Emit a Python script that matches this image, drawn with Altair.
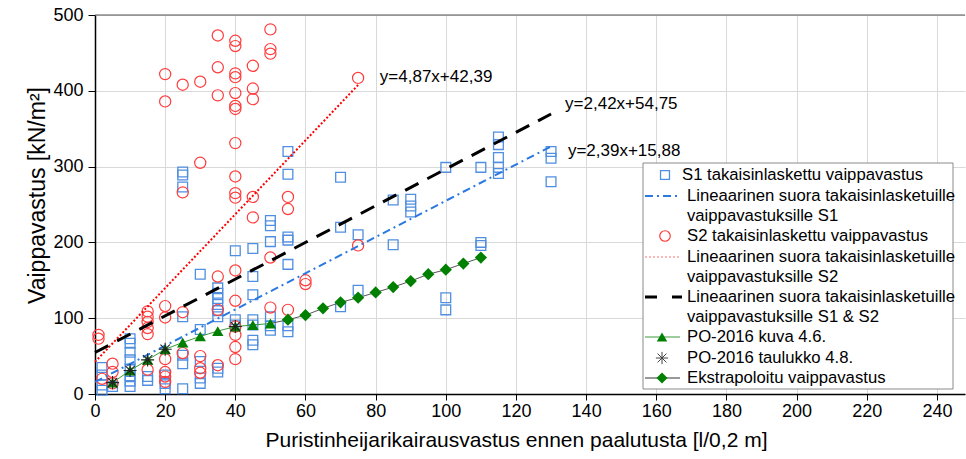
import altair as alt
import pandas as pd

FONT = "Liberation Sans"

# ---- S1 back-calculated shaft resistance (blue squares)
s1_x = [2, 2, 2, 2, 5,
        10, 10, 10, 10, 10, 10, 10, 10,
        15, 15, 20, 20, 20,
        25, 25, 25, 25, 25, 25, 25,
        30, 30, 30, 30, 30,
        35, 35, 35, 35, 35, 35, 35, 35,
        40, 40, 40,
        45, 45, 45, 45, 45, 45, 45,
        50, 50, 50, 50, 50, 50,
        55, 55, 55, 55, 55, 55, 55,
        70, 70, 70, 75, 75, 85, 85,
        90, 90, 90, 100, 100, 100,
        110, 110, 110, 115, 115, 115, 115, 115,
        130, 130, 130]
s1_y = [35, 25, 12, 5, 10,
        73, 67, 55, 45, 33, 24, 17, 10,
        23, 18, 25, 14, 7,
        293, 289, 273, 102, 51, 40, 7,
        158, 85, 43, 21, 14,
        140, 133, 126, 118, 110, 102, 34, 29,
        189, 98, 91,
        192, 155, 131, 98, 91, 71, 65,
        229, 222, 201, 102, 90, 84,
        320, 290, 207, 203, 171, 90, 82,
        286, 220, 115, 210, 137, 256, 197,
        257, 248, 240, 299, 127, 111,
        299, 200, 196, 339, 329, 312, 299, 291,
        320, 311, 280]

# ---- S2 back-calculated shaft resistance (red circles)
s2_x = [1, 1, 2, 5, 5, 5,
        15, 15, 15, 15, 15, 15,
        20, 20, 20, 20, 20, 20, 20, 20,
        25, 25, 25, 25,
        30, 30, 30, 30, 30,
        35, 35, 35, 35, 35, 35,
        40, 40, 40, 40, 40, 40, 40, 40, 40, 40, 40, 40, 40, 40, 40, 40, 40,
        45, 45, 45, 45, 45,
        50, 50, 50, 50, 50,
        55, 55, 55, 60, 60, 75, 75]
s2_y = [78, 73, 20, 40, 29, 14,
        109, 102, 95, 87, 79, 32,
        422, 386, 116, 101, 46, 29, 23, 16,
        408, 266, 108, 54,
        412, 305, 50, 34, 28,
        473, 431, 394, 155, 111, 38,
        466, 459, 423, 418, 397, 380, 376, 331, 287, 265, 259, 163, 123, 89, 78, 62, 46,
        433, 403, 389, 260, 233,
        481, 455, 449, 180, 114,
        260, 244, 111, 150, 145, 417, 196]

# ---- linear fits (as printed on the chart)
fit_name = ["S1", "S2", "S12"]
fit_slope = [2.39, 4.87, 2.42]
fit_icpt = [15.88, 42.39, 54.75]
fit_xmax = [130, 75, 130]
eq_text = ["y=2,39x+15,88", "y=4,87x+42,39", "y=2,42x+54,75"]
eq_x = [134.8, 81.2, 134.0]
eq_y = [320, 418, 383]

# ---- PO-2016 kuva 4.6 (green triangles)
tri_x = [5, 10, 15, 20, 25, 30, 35, 40, 45, 50]
tri_y = [15, 31, 45, 59, 68, 76, 83, 89, 91, 93]
# ---- PO-2016 taulukko 4.8 (stars)
star_x = [5, 10, 15, 20, 40]
star_y = [15, 31, 45, 59, 89]
# ---- Extrapolated (green diamonds)
dia_x = [50, 55, 60, 65, 70, 75, 80, 85, 90, 95, 100, 105, 110]
dia_y = [93, 98, 104, 113, 121, 127, 134, 141, 149, 158, 164, 172, 180]

legend_labels = ["S1 takaisinlaskettu vaippavastus",
                 "Lineaarinen suora takaisinlasketuille",
                 "vaippavastuksille S1",
                 "S2 takaisinlaskettu vaippavastus",
                 "Lineaarinen suora takaisinlasketuille",
                 "vaippavastuksille S2",
                 "Lineaarinen suora takaisinlasketuille",
                 "vaippavastuksille S1 & S2",
                 "PO-2016 kuva 4.6.",
                 "PO-2016 taulukko 4.8.",
                 "Ekstrapoloitu vaippavastus"]

S1C = "#4f8ee0"
S2C = "#ff3b3b"
LINE1C = "#2a78e0"
GREEN = "#008000"
STAR = "M-1,0L1,0M0,-1L0,1M-0.72,-0.72L0.72,0.72M-0.72,0.72L0.72,-0.72"

s1 = pd.DataFrame({"x": s1_x, "y": s1_y})
s2 = pd.DataFrame({"x": s2_x, "y": s2_y})
fits = pd.DataFrame({
    "name": [n for n in fit_name for _ in range(2)],
    "x": [v for xm in fit_xmax for v in (0, xm)],
})
fits["y"] = [fit_slope[fit_name.index(n)] * x + fit_icpt[fit_name.index(n)]
             for n, x in zip(fits["name"], fits["x"])]
eqs = pd.DataFrame({"t": eq_text, "x": eq_x, "y": eq_y})
tri = pd.DataFrame({"x": tri_x, "y": tri_y})
star = pd.DataFrame({"x": star_x, "y": star_y})
dia = pd.DataFrame({"x": dia_x, "y": dia_y})

xs = alt.Scale(domain=[0, 248], nice=False, zero=True)
ys = alt.Scale(domain=[0, 500], nice=False)

X = alt.X("x:Q", scale=xs, axis=alt.Axis(
    values=list(range(0, 241, 20)),
    title="Puristinheijarikairausvastus ennen paalutusta [l/0,2 m]",
    grid=True, gridColor="#d9d9d9", gridWidth=1,
    domainColor="black", domainWidth=1.5, tickColor="black", tickSize=6,
    labelFont=FONT, labelFontSize=18, labelColor="black", labelPadding=2,
    labelFlush=False, titleFont=FONT, titleFontSize=21, titleFontWeight="normal",
    titleColor="black", titlePadding=9, titleX=421))
Y = alt.Y("y:Q", scale=ys, axis=alt.Axis(
    values=list(range(0, 501, 50)),
    title="Vaippavastus [kN/m²]",
    grid=True, gridColor="#d9d9d9", gridWidth=1,
    domainColor="black", domainWidth=1.5, tickColor="black", tickSize=7,
    labelFont=FONT, labelFontSize=18, labelColor="black", labelPadding=5,
    labelFlush=False, titleFont=FONT, titleFontSize=23, titleFontWeight="normal",
    titleColor="black", titleX=-51, titleY=180, titleAngle=270,
    titleAlign="center", titleBaseline="alphabetic"))

one = pd.DataFrame({"a": [0]})

layers = []
layers.append(alt.Chart(s1).mark_point(shape="square", filled=False, size=95,
                                       stroke=S1C, strokeWidth=1.3, opacity=1).encode(x=X, y=Y))
layers.append(alt.Chart(s2).mark_point(shape="circle", filled=False, size=125,
                                       stroke=S2C, strokeWidth=1.2, opacity=1).encode(x="x:Q", y="y:Q"))
dash = {"S1": [8, 4, 2, 4], "S2": [2, 2], "S12": [15, 10]}
col = {"S1": LINE1C, "S2": "#ff0000", "S12": "black"}
wid = {"S1": 2, "S2": 2, "S12": 3}
for n in fit_name:
    layers.append(alt.Chart(fits[fits["name"] == n]).mark_line(
        color=col[n], strokeDash=dash[n], strokeWidth=wid[n]).encode(x="x:Q", y="y:Q"))
layers.append(alt.Chart(tri).mark_line(color="#3a9a3a", strokeWidth=1).encode(x="x:Q", y="y:Q"))
layers.append(alt.Chart(dia).mark_line(color="#555555", strokeWidth=1).encode(x="x:Q", y="y:Q"))
layers.append(alt.Chart(dia[dia["x"] >= 55]).mark_point(shape="diamond", filled=True, size=150,
                                                        color=GREEN, opacity=1).encode(x="x:Q", y="y:Q"))
layers.append(alt.Chart(tri).mark_point(shape="triangle-up", filled=True, size=130,
                                        color=GREEN, opacity=1).encode(x="x:Q", y="y:Q"))
layers.append(alt.Chart(star).mark_point(shape=STAR, filled=False, size=170,
                                         stroke="#222222", strokeWidth=1.1, opacity=1).encode(x="x:Q", y="y:Q"))
layers.append(alt.Chart(eqs).mark_text(align="left", baseline="middle", font=FONT,
                                       fontSize=17, color="black").encode(x="x:Q", y="y:Q", text="t:N"))
# top border
layers.append(alt.Chart(one).mark_rule(color="#555555", strokeWidth=1.2).encode(
    x=alt.value(0), x2=alt.value(870), y=alt.value(0)))

# ---- legend (drawn manually)
layers.append(alt.Chart(one).mark_rect(fill="white", stroke="#8a8a8a", strokeWidth=1).encode(
    x=alt.value(548), x2=alt.value(858), y=alt.value(148), y2=alt.value(374)))
row_y = [160, 181, 201, 221, 242, 262, 282, 302, 322, 343, 363]
for i, lab in enumerate(legend_labels):
    tx = 587 if i == 0 else 592
    layers.append(alt.Chart(one).mark_text(text=lab, align="left", baseline="middle", font=FONT,
                                           fontSize=16.7, color="black").encode(
        x=alt.value(tx), y=alt.value(row_y[i])))
layers.append(alt.Chart(one).mark_point(shape="square", filled=False, size=80, stroke=S1C,
                                        strokeWidth=1.3, opacity=1).encode(x=alt.value(570), y=alt.value(row_y[0])))
layers.append(alt.Chart(one).mark_rule(color=LINE1C, strokeWidth=2, strokeDash=[8, 4, 2, 4]).encode(
    x=alt.value(550), x2=alt.value(583), y=alt.value(row_y[1])))
layers.append(alt.Chart(one).mark_point(shape="circle", filled=False, size=110, stroke=S2C,
                                        strokeWidth=1.2, opacity=1).encode(x=alt.value(570), y=alt.value(row_y[3])))
layers.append(alt.Chart(one).mark_rule(color="#ff7070", strokeWidth=1.2, strokeDash=[2, 2]).encode(
    x=alt.value(550), x2=alt.value(585), y=alt.value(row_y[4])))
layers.append(alt.Chart(one).mark_rule(color="black", strokeWidth=3, strokeDash=[12, 15]).encode(
    x=alt.value(550), x2=alt.value(587), y=alt.value(row_y[6])))
layers.append(alt.Chart(one).mark_rule(color="#3a9a3a", strokeWidth=1).encode(
    x=alt.value(550), x2=alt.value(585), y=alt.value(row_y[8])))
layers.append(alt.Chart(one).mark_point(shape="triangle-up", filled=True, size=110, color=GREEN,
                                        opacity=1).encode(x=alt.value(567), y=alt.value(row_y[8])))
layers.append(alt.Chart(one).mark_point(shape=STAR, filled=False, size=150, stroke="#444444",
                                        strokeWidth=1, opacity=1).encode(x=alt.value(567), y=alt.value(row_y[9])))
layers.append(alt.Chart(one).mark_rule(color="#777777", strokeWidth=1.5).encode(
    x=alt.value(550), x2=alt.value(585), y=alt.value(row_y[10])))
layers.append(alt.Chart(one).mark_point(shape="diamond", filled=True, size=120, color=GREEN,
                                        opacity=1).encode(x=alt.value(567), y=alt.value(row_y[10])))

chart = alt.layer(*layers).properties(
    width=870, height=379,
    autosize=alt.AutoSizeParams(type="none"),
    padding={"left": 95, "top": 15, "right": 1, "bottom": 65},
    background="white",
).configure_view(stroke=None)

chart.save("out.html", embed_options={"renderer": "svg", "actions": False})
